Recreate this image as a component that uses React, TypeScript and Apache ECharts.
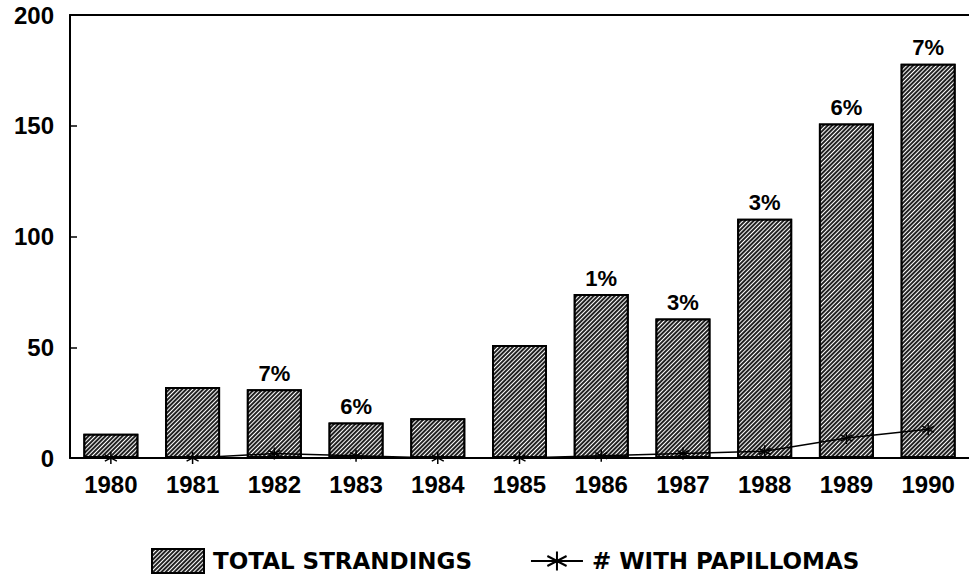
import React, { useEffect, useRef } from "react";
import * as echarts from "echarts";

const years = ["1980", "1981", "1982", "1983", "1984", "1985", "1986", "1987", "1988", "1989", "1990"];
const totalStrandings = [11, 32, 31, 16, 18, 51, 74, 63, 108, 151, 178];
const withPapillomas = [0, 0, 2, 1, 0, 0, 1, 2, 3, 9, 13];
const percentLabels = ["", "", "7%", "6%", "", "", "1%", "3%", "3%", "6%", "7%"];
const yTicks = [0, 50, 100, 150, 200];

const FONT = "'Liberation Sans', Arial, Helvetica, sans-serif";
const LEGEND_FONT = "'DejaVu Sans', 'Liberation Sans', sans-serif";
const STAR = "path://M0,-5L0,5M-4.5,-2.6L4.5,2.6M-4.5,2.6L4.5,-2.6";

export default function App() {
  const ref = useRef<HTMLDivElement>(null);
  useEffect(() => {
    if (!ref.current) return;
    const chart = echarts.init(ref.current, undefined, { renderer: "svg" });
    const hatch = {
      symbol: "rect",
      symbolSize: 1,
      dashArrayX: [1, 0],
      dashArrayY: [0.6, 1.1],
      rotation: -Math.PI / 4,
      color: "#ffffff",
    };
    chart.setOption({
      animation: false,
      backgroundColor: "#ffffff",
      textStyle: { fontFamily: FONT },
      grid: { left: 70, top: 15, width: 907, bottom: 121, containLabel: false },
      legend: {
        top: 543,
        left: 146,
        itemGap: 58,
        itemWidth: 52,
        itemHeight: 24,
        textStyle: { fontFamily: LEGEND_FONT, fontSize: 23, fontWeight: "bold", color: "#000", padding: [0, 0, 0, 4] },
        data: [
          { name: "TOTAL STRANDINGS", icon: "rect" },
          { name: "# WITH PAPILLOMAS" },
        ],
      },
      xAxis: [
        {
          type: "category",
          data: years,
          position: "bottom",
          axisLine: { lineStyle: { color: "#000", width: 2 } },
          axisTick: { show: false },
          axisLabel: { color: "#000", fontSize: 24, fontWeight: "bold", fontFamily: FONT, margin: 14 },
        },
        {
          type: "category",
          data: years,
          position: "top",
          axisLine: { lineStyle: { color: "#000", width: 2 } },
          axisTick: { show: false },
          axisLabel: { show: false },
        },
      ],
      yAxis: {
        type: "value",
        min: yTicks[0],
        max: yTicks[yTicks.length - 1],
        interval: 50,
        axisLine: { show: true, lineStyle: { color: "#000", width: 2 } },
        axisTick: { show: true, inside: true, length: 7, lineStyle: { color: "#000", width: 1.5 } },
        splitLine: { show: false },
        axisLabel: { color: "#000", fontSize: 24, fontWeight: "bold", fontFamily: FONT, margin: 16 },
      },
      series: [
        {
          name: "TOTAL STRANDINGS",
          type: "bar",
          data: totalStrandings,
          barWidth: 55,
          itemStyle: { color: "#222222", borderColor: "#000", borderWidth: 2, decal: hatch },
          label: {
            show: true,
            position: "top",
            distance: 5,
            color: "#000",
            fontSize: 22,
            fontWeight: "bold",
            fontFamily: FONT,
            formatter: (p: any) => percentLabels[p.dataIndex],
          },
        },
        {
          name: "# WITH PAPILLOMAS",
          type: "line",
          data: withPapillomas,
          symbol: STAR,
          symbolSize: 12,
          showAllSymbol: true,
          lineStyle: { color: "#000", width: 1.5 },
          itemStyle: { color: "transparent", borderColor: "#000", borderWidth: 1.5 },
          z: 5,
        },
      ],
    });
    return () => chart.dispose();
  }, []);
  return <div ref={ref} style={{ width: 969, height: 579, position: "absolute", left: 0, top: 0 }} />;
}
